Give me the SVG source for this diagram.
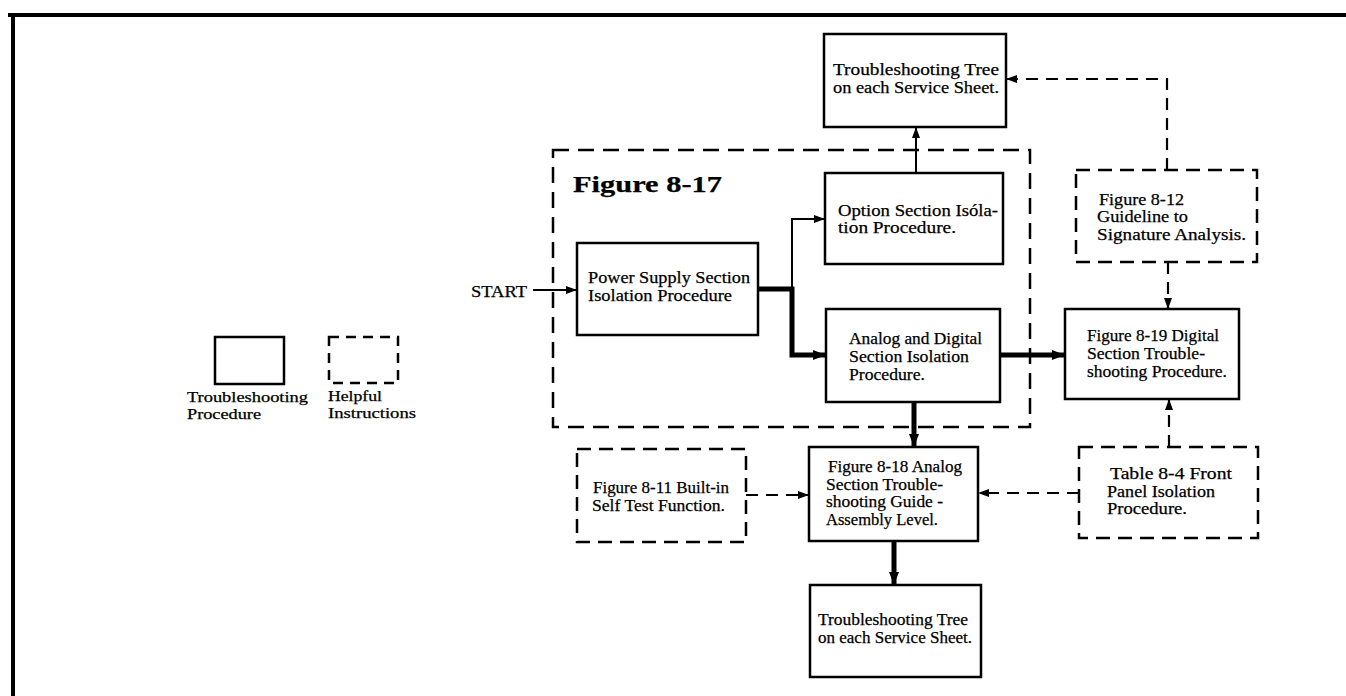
<svg xmlns="http://www.w3.org/2000/svg" width="1346" height="696" viewBox="0 0 1346 696">
<style>
  .box { fill: #fff; stroke: #000; stroke-width: 2.5; }
  .dbox { fill: none; stroke: #000; stroke-width: 2.5; stroke-dasharray: 14 8; }
  .t { font-family: "Liberation Serif", "Times New Roman", serif; font-size: 16.5px; fill: #000; stroke: #000; stroke-width: 0.25; }
  .lg { font-size: 14px; }
  .b { font-weight: bold; }
  .thin { fill: none; stroke: #000; stroke-width: 2; }
  .thick { fill: none; stroke: #000; stroke-width: 5; }
  .dash { fill: none; stroke: #000; stroke-width: 2.2; stroke-dasharray: 12 8; }
</style>
<defs>
  <marker id="ah" markerUnits="userSpaceOnUse" markerWidth="11" markerHeight="8" refX="11" refY="4" orient="auto">
    <path d="M0,0 L11,4 L0,8 z" fill="#000"/>
  </marker>
  <marker id="ahb" markerUnits="userSpaceOnUse" markerWidth="13" markerHeight="10" refX="13" refY="5" orient="auto">
    <path d="M0,0 L13,5 L0,10 z" fill="#000"/>
  </marker>
</defs>
<rect width="1346" height="696" fill="#fff"/>

<g id="frame">
  <line x1="8" y1="15" x2="1346" y2="15" stroke="#000" stroke-width="4"/>
  <line x1="13" y1="14" x2="13" y2="696" stroke="#000" stroke-width="4"/>
</g>

<g id="legend">
  <rect class="box" x="215" y="337" width="69" height="47"/>
  <rect class="dbox" x="329" y="337" width="69" height="46" style="stroke-dasharray:10 7"/>
  <text class="t lg" x="187" y="402" textLength="121" lengthAdjust="spacingAndGlyphs">Troubleshooting</text>
  <text class="t lg" x="187" y="419" textLength="74" lengthAdjust="spacingAndGlyphs">Procedure</text>
  <text class="t lg" x="328" y="401" textLength="54" lengthAdjust="spacingAndGlyphs">Helpful</text>
  <text class="t lg" x="328" y="418" textLength="88" lengthAdjust="spacingAndGlyphs">Instructions</text>
</g>

<g id="fig817">
  <rect class="dbox" x="553" y="150" width="477" height="277" style="stroke-dasharray:16 9"/>
  <text class="t b" x="573" y="192" style="font-size:23px" textLength="149" lengthAdjust="spacingAndGlyphs">Figure 8-17</text>
</g>

<g id="start">
  <text class="t" x="471" y="297" textLength="56" lengthAdjust="spacingAndGlyphs">START</text>
</g>

<g id="tree-top">
  <rect class="box" x="824" y="34" width="182" height="93"/>
  <text class="t" x="833" y="75" textLength="166" lengthAdjust="spacingAndGlyphs">Troubleshooting Tree</text>
  <text class="t" x="833" y="93" textLength="166" lengthAdjust="spacingAndGlyphs">on each Service Sheet.</text>
</g>

<g id="option">
  <rect class="box" x="825" y="173" width="178" height="91"/>
  <text class="t" x="838" y="216" textLength="160" lengthAdjust="spacingAndGlyphs">Option Section Isóla-</text>
  <text class="t" x="838" y="233" textLength="118" lengthAdjust="spacingAndGlyphs">tion Procedure.</text>
</g>

<g id="power">
  <rect class="box" x="577" y="243" width="181" height="92"/>
  <text class="t" x="588" y="283" textLength="162" lengthAdjust="spacingAndGlyphs">Power Supply Section</text>
  <text class="t" x="588" y="301" textLength="144" lengthAdjust="spacingAndGlyphs">Isolation Procedure</text>
</g>

<g id="analog-digital">
  <rect class="box" x="826" y="309" width="174" height="93"/>
  <text class="t" x="849" y="344" textLength="133" lengthAdjust="spacingAndGlyphs">Analog and Digital</text>
  <text class="t" x="849" y="362" textLength="120" lengthAdjust="spacingAndGlyphs">Section Isolation</text>
  <text class="t" x="849" y="380" textLength="76" lengthAdjust="spacingAndGlyphs">Procedure.</text>
</g>

<g id="fig812">
  <rect class="dbox" x="1076" y="170" width="181" height="92"/>
  <text class="t" x="1099" y="205" textLength="85" lengthAdjust="spacingAndGlyphs">Figure 8-12</text>
  <text class="t" x="1097" y="222" textLength="91" lengthAdjust="spacingAndGlyphs">Guideline to</text>
  <text class="t" x="1097" y="240" textLength="149" lengthAdjust="spacingAndGlyphs">Signature Analysis.</text>
</g>

<g id="fig819">
  <rect class="box" x="1065" y="309" width="174" height="90"/>
  <text class="t" x="1087" y="341" textLength="132" lengthAdjust="spacingAndGlyphs">Figure 8-19 Digital</text>
  <text class="t" x="1087" y="359" textLength="118" lengthAdjust="spacingAndGlyphs">Section Trouble-</text>
  <text class="t" x="1087" y="377" textLength="140" lengthAdjust="spacingAndGlyphs">shooting Procedure.</text>
</g>

<g id="fig811">
  <rect class="dbox" x="577" y="449" width="169" height="93"/>
  <text class="t" x="593" y="493" textLength="136" lengthAdjust="spacingAndGlyphs">Figure 8-11 Built-in</text>
  <text class="t" x="592" y="511" textLength="133" lengthAdjust="spacingAndGlyphs">Self Test Function.</text>
</g>

<g id="fig818">
  <rect class="box" x="809" y="447" width="169" height="94"/>
  <text class="t" x="828" y="472" textLength="134" lengthAdjust="spacingAndGlyphs">Figure 8-18 Analog</text>
  <text class="t" x="826" y="490" textLength="117" lengthAdjust="spacingAndGlyphs">Section Trouble-</text>
  <text class="t" x="826" y="507" textLength="117" lengthAdjust="spacingAndGlyphs">shooting Guide -</text>
  <text class="t" x="826" y="525" textLength="112" lengthAdjust="spacingAndGlyphs">Assembly Level.</text>
</g>

<g id="table84">
  <rect class="dbox" x="1079" y="447" width="179" height="91"/>
  <text class="t" x="1110" y="479" textLength="122" lengthAdjust="spacingAndGlyphs">Table 8-4 Front</text>
  <text class="t" x="1107" y="497" textLength="108" lengthAdjust="spacingAndGlyphs">Panel Isolation</text>
  <text class="t" x="1107" y="514" textLength="80" lengthAdjust="spacingAndGlyphs">Procedure.</text>
</g>

<g id="tree-bottom">
  <rect class="box" x="810" y="585" width="171" height="92"/>
  <text class="t" x="818" y="625" textLength="150" lengthAdjust="spacingAndGlyphs">Troubleshooting Tree</text>
  <text class="t" x="818" y="643" textLength="154" lengthAdjust="spacingAndGlyphs">on each Service Sheet.</text>
</g>

<g id="connectors">
  <path class="thin" d="M533,290 H577" marker-end="url(#ah)"/>
  <path class="thick" d="M758,289 H792 V355 H826" marker-end="url(#ahb)"/>
  <path class="thin" d="M792,289 V219 H825" marker-end="url(#ah)"/>
  <path class="thin" d="M916,173 V127" marker-end="url(#ah)"/>
  <path class="thick" d="M1000,355 H1065" marker-end="url(#ahb)"/>
  <path class="thick" d="M914,402 V447" marker-end="url(#ahb)"/>
  <path class="thick" d="M894,541 V585" marker-end="url(#ahb)"/>
  <path class="dash" d="M746,495 H809" marker-end="url(#ah)"/>
  <path class="dash" d="M1079,493 H978" marker-end="url(#ah)"/>
  <path class="dash" d="M1169,447 V399" marker-end="url(#ah)"/>
  <path class="dash" d="M1168,262 V309" marker-end="url(#ah)"/>
  <path class="dash" d="M1167,170 V79 H1006" marker-end="url(#ah)"/>
</g>
</svg>
